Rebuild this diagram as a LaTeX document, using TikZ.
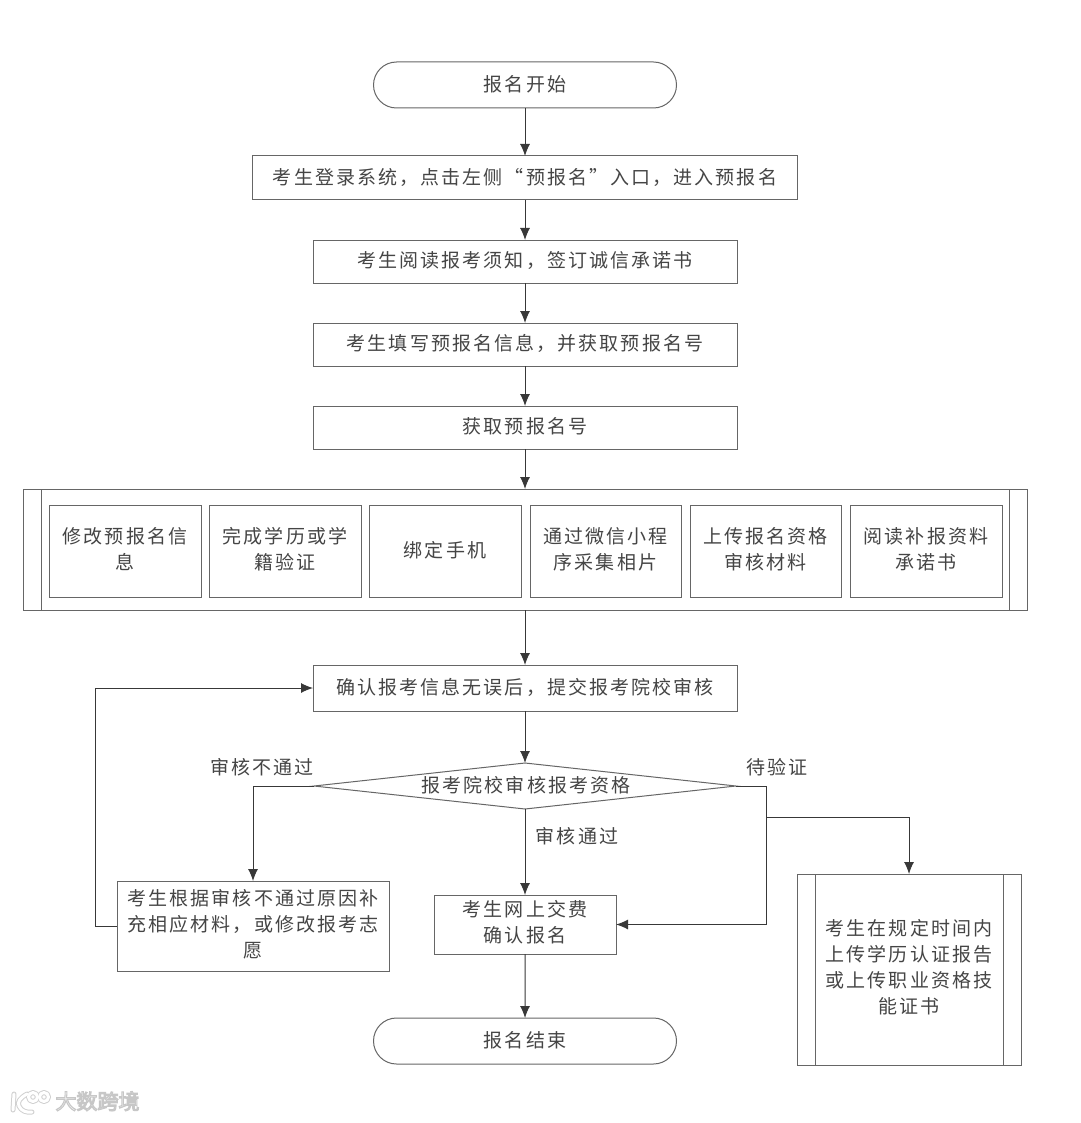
\documentclass[tikz,border=0pt]{standalone}
\usepackage{fontspec}
\usetikzlibrary{arrows.meta,shapes.geometric,shapes.misc,calc}
\newfontfamily\cjk[LetterSpace=11]{Noto Sans CJK SC}
\newfontfamily\cjkmark{Noto Sans CJK SC}
\definecolor{ln}{gray}{0.4}
\definecolor{tx}{gray}{0.27}
\tikzset{
  x=1pt,y=-1pt,
  every node/.style={inner sep=0pt,outer sep=0pt,text=tx,align=center,
    font=\fontsize{19}{26}\selectfont\cjk,
    execute at begin node={\rule{0pt}{18pt}},
    execute at end node={\rule[-5.6pt]{0pt}{0pt}}},
  bx/.style={draw=ln,line width=1pt,rectangle,fill=white},
  term/.style={bx,rounded rectangle},
  flow/.style={draw=black!78,line width=1pt,-{Latex[length=12pt,width=10pt]}},
  plain/.style={draw=black!78,line width=1pt},
  bar/.style={draw=ln,line width=1pt},
  mk/.style={line cap=round,line join=round}
}
\begin{document}
\begin{tikzpicture}
\useasboundingbox (0,0) rectangle (1080,1123);
\fill[white] (0,0) rectangle (1080,1123);
% main column
\node[term,minimum width=303pt,minimum height=46pt] (start) at (525,85) {报名开始};
\node[bx,minimum width=545pt,minimum height=44pt] (login) at (525,178) {考生登录系统，点击左侧“预报名”入口，进入预报名};
\node[bx,minimum width=424pt,minimum height=43pt] (read) at (525,261.5) {考生阅读报考须知，签订诚信承诺书};
\node[bx,minimum width=424pt,minimum height=43pt] (fill) at (525,344.5) {考生填写预报名信息，并获取预报名号};
\node[bx,minimum width=424pt,minimum height=43pt] (get) at (525,427.5) {获取预报名号};
% container
\node[bx,minimum width=1004pt,minimum height=121pt] (group) at (525,549.5) {};
\draw[bar] ($(group.north west)+(18,0)$) -- ($(group.south west)+(18,0)$);
\draw[bar] ($(group.north east)+(-18,0)$) -- ($(group.south east)+(-18,0)$);
\node[bx,minimum width=152pt,minimum height=92pt] (g1) at (125,551) {修改预报名信\\息};
\node[bx,minimum width=152pt,minimum height=92pt] (g2) at (285,551) {完成学历或学\\籍验证};
\node[bx,minimum width=152pt,minimum height=92pt] (g3) at (445,551) {绑定手机};
\node[bx,minimum width=151pt,minimum height=92pt] (g4) at (605.5,551) {通过微信小程\\序采集相片};
\node[bx,minimum width=151pt,minimum height=92pt] (g5) at (765.5,551) {上传报名资格\\审核材料};
\node[bx,minimum width=152pt,minimum height=92pt] (g6) at (926,551) {阅读补报资料\\承诺书};
% confirm and decision
\node[bx,minimum width=424pt,minimum height=46pt] (confirm) at (525,688) {确认报考信息无误后，提交报考院校审核};
\node[diamond,draw=ln,line width=1pt,fill=white,aspect=9,minimum width=422pt,minimum height=46pt] (dec) at (525,786) {};
\node (dectext) at (526,786) {报考院校审核报考资格};
% lower boxes
\node[bx,minimum width=272pt,minimum height=90pt] (fix) at (253,926) {考生根据审核不通过原因补\\充相应材料，或修改报考志\\愿};
\node[bx,minimum width=182pt,minimum height=59pt] (pay) at (525,924.5) {考生网上交费\\确认报名};
\node[bx,minimum width=224pt,minimum height=191pt] (wait) at (909,969.5) {考生在规定时间内\\上传学历认证报告\\或上传职业资格技\\能证书};
\draw[bar] ($(wait.north west)+(18,0)$) -- ($(wait.south west)+(18,0)$);
\draw[bar] ($(wait.north east)+(-18,0)$) -- ($(wait.south east)+(-18,0)$);
\node[term,minimum width=303pt,minimum height=46pt] (finish) at (525,1041) {报名结束};
% labels
\node (lno) at (262,768) {审核不通过};
\node (lwait) at (777,768) {待验证};
\node (lok) at (577,837) {审核通过};
% connectors
\draw[flow] (start) -- (login);
\draw[flow] (login) -- (read);
\draw[flow] (read) -- (fill);
\draw[flow] (fill) -- (get);
\draw[flow] (get) -- (group);
\draw[flow] (group) -- (confirm);
\draw[flow] (confirm.south) -- (dec.north);
\draw[flow] (dec.south) -- (pay.north);
\draw[flow] (pay) -- (finish);
\draw[flow] (dec.west) -| (fix.north);
\draw[flow] (fix.west) -- ++(-22,0) |- (confirm.west);
\coordinate (corner) at (766,786);
\coordinate (branch) at (766,817);
\draw[plain] (dec.east) -- (corner) -- (branch);
\draw[flow] (branch) |- (pay.east);
\draw[flow] (branch) -| (wait.north);
% watermark
\begin{scope}[mk]
  \foreach \w/\c in {5/black!18,3/white}{
    \draw[line width=\w pt,\c] (14,1094) -- (13,1110);
    \draw[line width=\w pt,\c] (27,1094) .. controls (20,1098) and (17,1102) .. (19,1106) .. controls (21,1111) and (27,1113) .. (32,1112);
    \draw[line width=\w pt,\c] (33,1097) circle (4.5);
    \draw[line width=\w pt,\c] (44,1097) circle (4.5);
  }
\end{scope}
\node[font=\fontsize{21}{21}\selectfont\cjkmark,text=white] (mark) at (97.5,1103) {\special{pdf:code 2 Tr 1.1 w 0.78 0.78 0.78 RG}大数跨境\special{pdf:code 0 Tr}};
\end{tikzpicture}
\end{document}
